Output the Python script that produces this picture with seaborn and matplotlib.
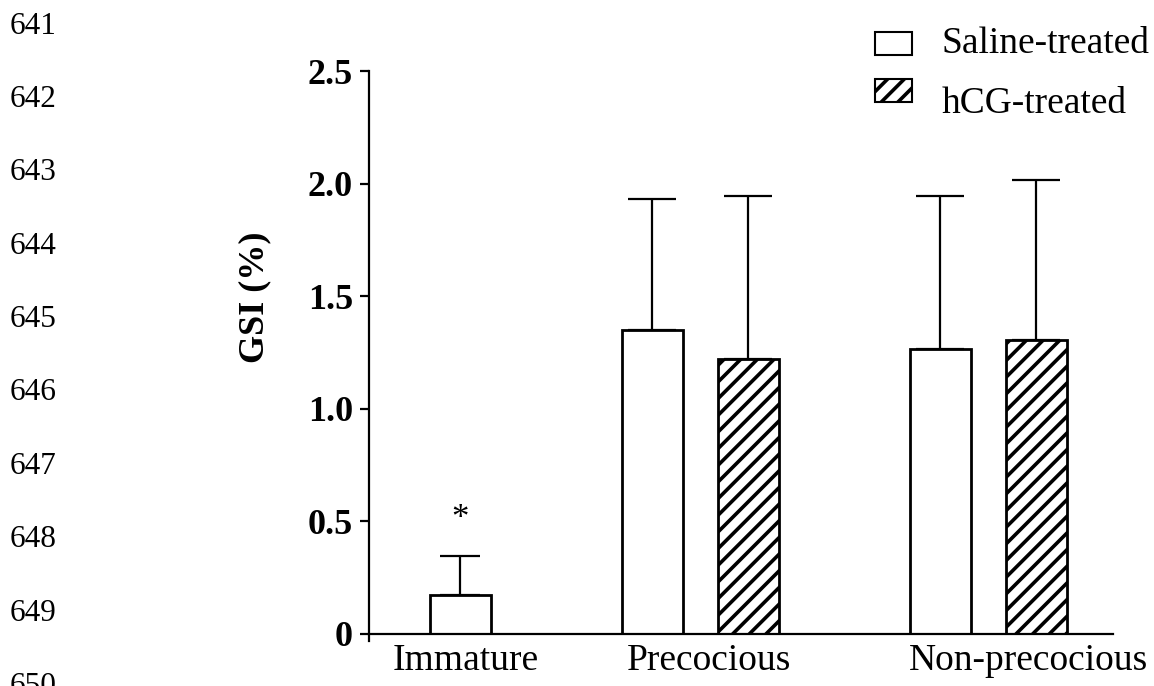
import numpy as np
import pandas as pd
import matplotlib
matplotlib.use("Agg")
import matplotlib.pyplot as plt
import seaborn as sns
from matplotlib.patches import Rectangle

# ---------------- data ----------------
groups = ["Immature", "Precocious", "Non-precocious"]
treatments = ["Saline-treated", "hCG-treated"]
saline_mean = [0.173, 1.352, 1.264]
saline_err = [0.173, 0.580, 0.683]
hcg_mean = [np.nan, 1.220, 1.305]
hcg_err = [np.nan, 0.727, 0.711]
yticks = [0, 0.5, 1.0, 1.5, 2.0, 2.5]
ytick_labels = ["0", "0.5", "1.0", "1.5", "2.0", "2.5"]
line_numbers = [str(n) for n in range(641, 651)]
star_label = "*"

# ---------------- style ----------------
sns.set_theme(style="ticks")
plt.rcParams["font.family"] = ["Liberation Serif", "DejaVu Serif"]
plt.rcParams["hatch.linewidth"] = 2.6
plt.rcParams["hatch.color"] = "black"
for k in ["text.color", "axes.labelcolor", "xtick.color", "ytick.color"]:
    plt.rcParams[k] = "black"

# layout: slot index of first bar of each group (empty slot between groups)
group_start = [0, 2, 5]
rows = []
for g, s, sm, se, hm, he in zip(groups, group_start, saline_mean, saline_err, hcg_mean, hcg_err):
    rows.append(dict(group=g, treatment=treatments[0], pos=s, GSI=sm, err=se))
    if not np.isnan(hm):
        rows.append(dict(group=g, treatment=treatments[1], pos=s + 1, GSI=hm, err=he))
df = pd.DataFrame(rows)

W, H = 1154, 686
fig = plt.figure(figsize=(W / 100, H / 100), dpi=100)
ax = fig.add_axes([369 / W, 1 - 634 / H, (1113 - 369) / W, (634 - 71) / H])

sns.barplot(data=df, x="pos", y="GSI", hue="treatment", hue_order=treatments,
            native_scale=True, dodge=False, width=0.635,
            palette=["white", "white"], edgecolor="black", linewidth=2.0,
            errorbar=None, legend=False, ax=ax)

# hatch the hCG bars
for cont, t in zip(ax.containers, treatments):
    for p in cont.patches:
        p.set_facecolor("white")
        p.set_edgecolor("black")
        if t == "hCG-treated":
            p.set_hatch("//")

# one-sided (upper) error bars
for _, r in df.iterrows():
    cap = 14.5 if r["group"] == "Immature" else 17.5
    ax.errorbar([r["pos"]], [r["GSI"]], yerr=[[0], [r["err"]]], fmt="none",
                ecolor="black", elinewidth=1.6, capsize=cap, capthick=1.6, zorder=1)

# significance star
imm = df[df["group"] == "Immature"].iloc[0]
ax.text(imm["pos"], 0.47, star_label, ha="center", va="baseline", fontsize=25)

# axes
ax.set_xlim(-0.948, 6.80)
ax.set_ylim(0, 2.5)
ax.set_yticks(yticks)
ax.set_yticklabels(ytick_labels, fontweight="bold")
label_pos = [0.06, 2.59, 5.92]
ax.set_xticks(label_pos)
ax.set_xticklabels(groups)
ax.tick_params(axis="y", length=6.5, width=1.6, pad=5, labelsize=26)
ax.tick_params(axis="x", length=0, pad=7, labelsize=27)
ax.set_xlabel("")
ax.set_ylabel("GSI (%)", fontsize=26, fontweight="bold")
ax.yaxis.set_label_coords(-0.131, 0.599)
sns.despine(ax=ax)
for s in ["left", "bottom"]:
    ax.spines[s].set_linewidth(1.6)
    ax.spines[s].set_color("black")
ax.spines["left"].set_bounds(-0.03, 2.5)
ax.spines["left"].set_clip_on(False)

# legend (keys + labels placed as in the reference)
key_boxes = [(875, 32), (875, 79)]
label_y = [44, 104]
for (kx, ky), t, ty in zip(key_boxes, treatments, label_y):
    rect = Rectangle((kx / W, 1 - (ky + 23) / H), 37 / W, 23 / H, transform=fig.transFigure,
                     facecolor="white", edgecolor="black", linewidth=1.5,
                     hatch="//" if t == "hCG-treated" else None)
    fig.add_artist(rect)
    fig.text(942 / W, 1 - ty / H, t, fontsize=27, va="center", ha="left")

# manuscript line numbers
for i, n in enumerate(line_numbers):
    fig.text(10 / W, 1 - (26 + 73.4 * i) / H, n, fontsize=22.5, va="center", ha="left")

fig.savefig("out.png", dpi=100)
